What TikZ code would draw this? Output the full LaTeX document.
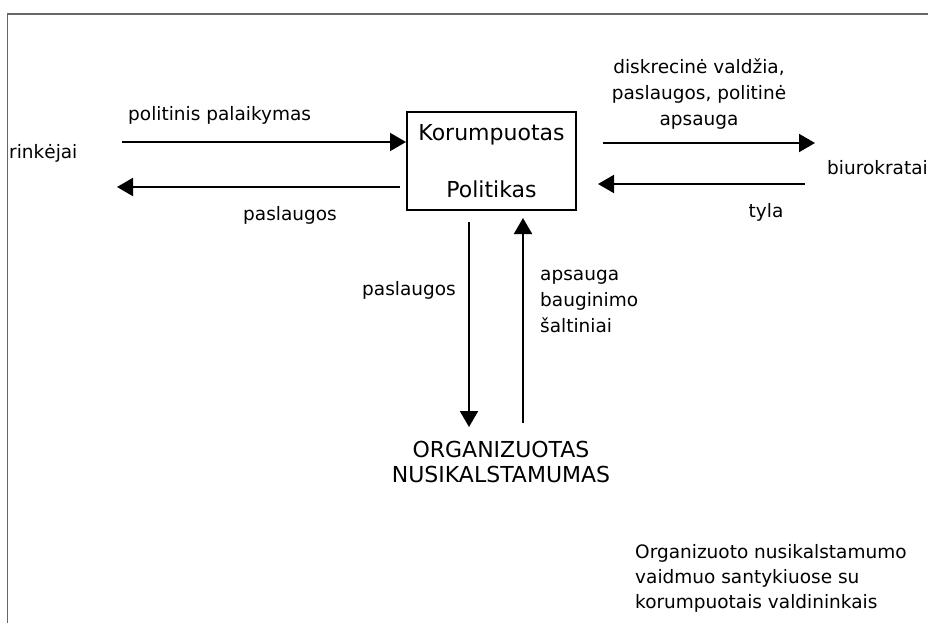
\documentclass[tikz,border=0pt]{standalone}
\usepackage{fontspec}
\setmainfont{DejaVu Sans}
\usetikzlibrary{arrows.meta}
\newcommand{\lbl}{\fontsize{18.5}{26}\selectfont}
\newcommand{\bigtxt}{\fontsize{22}{25}\selectfont}
\tikzset{
  flow/.style={-{Triangle[length=16pt,width=18pt]}, line width=2pt},
  frame/.style={draw=black!60, line width=1.5pt},
  box/.style={draw, line width=2pt, minimum width=169pt, minimum height=98pt, align=center, font=\bigtxt},
  every node/.style={font=\lbl, inner sep=0pt}
}
\begin{document}
\begin{tikzpicture}[x=1pt, y=-1pt]
  \useasboundingbox (0,0) rectangle (929,623);
  \draw[frame] (928,14) -- (7.5,14) -- (7.5,623);

  \node[box] (K) at (491.5,161) {Korumpuotas\\[32pt]Politikas};
  \node[anchor=west] (R) at (9,153) {rinkėjai};
  \node[anchor=west] (B) at (827,168) {biurokratai};
  \node[align=center, font=\bigtxt] (O) at (501,462) {ORGANIZUOTAS\\NUSIKALSTAMUMAS};

  \coordinate (A1) at (122,142);
  \coordinate (A2) at (400,187);
  \coordinate (A3) at (117,187);
  \coordinate (A4) at (603,143);
  \coordinate (A5) at (815,143);
  \coordinate (A6) at (805,184);
  \coordinate (A7) at (598,184);
  \coordinate (A8) at (469,222);
  \coordinate (A9) at (469,427);
  \coordinate (A10) at (523,423);
  \coordinate (A11) at (523,218);

  \path [flow] (A1) edge (A1 -| K.west);
  \path [flow] (A2) edge (A3);
  \path [flow] (A4) edge (A5);
  \path [flow] (A6) edge (A7);
  \path [flow] (A8) edge (A9);
  \path [flow] (A10) edge (A11);

  \node[anchor=west] (L1) at (128,115) {politinis palaikymas};
  \node[anchor=west] (L2) at (243,215) {paslaugos};
  \node[align=center] (L3) at (699,94) {diskrecinė valdžia,\\paslaugos, politinė\\apsauga};
  \node (L4) at (766,212) {tyla};
  \node[anchor=west] (L5) at (362,290) {paslaugos};
  \node[anchor=west, align=left] (L6) at (540,301) {apsauga\\bauginimo\\šaltiniai};
  \node[anchor=west, align=left, font=\fontsize{18.5}{25}\selectfont] (L7) at (635,578) {Organizuoto nusikalstamumo\\vaidmuo santykiuose su\\korumpuotais valdininkais};
\end{tikzpicture}
\end{document}
